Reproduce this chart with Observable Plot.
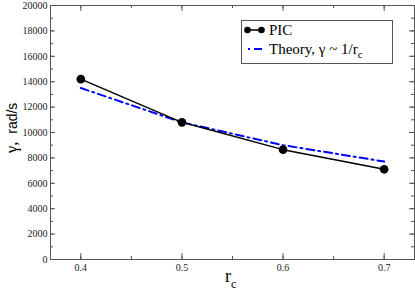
<!DOCTYPE html>
<html>
<head>
<meta charset="utf-8">
<script src="https://cdn.jsdelivr.net/npm/d3@7"></script>
<script src="https://cdn.jsdelivr.net/npm/@observablehq/plot@0.6"></script>
<style>
  html, body { margin: 0; padding: 0; background: #fff; }
</style>
</head>
<body>
<div id="chart"></div>
<script>
const rc = [0.4, 0.5, 0.6, 0.7];
const picGamma = [14200, 10800, 8650, 7100];
const theoryGamma = [13500, 10800, 9000, 7714];
const xTicks = [0.4, 0.5, 0.6, 0.7];
const xMinorTicks = [0.4, 0.45, 0.5, 0.55, 0.6, 0.65, 0.7];
const yTicks = [0, 2000, 4000, 6000, 8000, 10000, 12000, 14000, 16000, 18000, 20000];
const yMinorTicks = d3.range(0, 20001, 1000);

const pic = rc.map((r, i) => ({r, g: picGamma[i]}));
const theory = rc.map((r, i) => ({r, g: theoryGamma[i]}));

const W = 415, H = 290, ML = 50, MR = 1, MT = 5, MB = 31;
const FW = W - ML - MR, FH = H - MT - MB;
const frameColor = "#555";
const serif = "'Liberation Serif', 'DejaVu Serif', serif";
const sans = "'Liberation Sans', Arial, sans-serif";

const plot = Plot.plot({
  width: W, height: H,
  marginLeft: ML, marginRight: MR, marginTop: MT, marginBottom: MB,
  style: {fontFamily: serif, fontSize: "10px", background: "#fff", color: "#000"},
  x: {domain: [0.37, 0.73], axis: null},
  y: {domain: [0, 20000], axis: null},
  marks: [
    // minor ticks
    Plot.ruleX(xMinorTicks, {x: d => d, stroke: frameColor, insetTop: FH - 3}),
    Plot.ruleX(xMinorTicks, {x: d => d, stroke: frameColor, insetBottom: FH - 3}),
    Plot.ruleY(yMinorTicks, {y: d => d, stroke: frameColor, insetRight: FW - 3}),
    Plot.ruleY(yMinorTicks, {y: d => d, stroke: frameColor, insetLeft: FW - 3}),
    // major ticks
    Plot.ruleX(xTicks, {x: d => d, stroke: frameColor, insetTop: FH - 6}),
    Plot.ruleX(xTicks, {x: d => d, stroke: frameColor, insetBottom: FH - 6}),
    Plot.ruleY(yTicks, {y: d => d, stroke: frameColor, insetRight: FW - 5}),
    Plot.ruleY(yTicks, {y: d => d, stroke: frameColor, insetLeft: FW - 5}),
    Plot.frame({stroke: frameColor}),
    Plot.axisX(xTicks, {tickSize: 0, tickPadding: 4.5, tickFormat: d => d.toFixed(1), fill: "#222", label: null}),
    Plot.axisY(yTicks, {tickSize: 0, tickPadding: 3, tickFormat: d => String(d), fill: "#222", label: null}),
    Plot.line(theory, {x: "r", y: "g", stroke: "#0000ff", strokeWidth: 2, strokeDasharray: "8,4,2,4"}),
    Plot.line(pic, {x: "r", y: "g", stroke: "#000", strokeWidth: 1.5}),
    Plot.dot(pic, {x: "r", y: "g", r: 4.3, fill: "#000"})
  ]
});
document.getElementById("chart").appendChild(plot);

const svg = d3.select(plot);

// Legend
const lg = svg.append("g").attr("text-anchor", "start");
lg.append("rect").attr("x", 241.5).attr("y", 20.5).attr("width", 151).attr("height", 43)
  .attr("fill", "#fff").attr("stroke", frameColor).attr("stroke-width", 1);
lg.append("line").attr("x1", 247.5).attr("x2", 261.5).attr("y1", 30).attr("y2", 30)
  .attr("stroke", "#000").attr("stroke-width", 1.5);
lg.append("circle").attr("cx", 247.5).attr("cy", 30).attr("r", 3.3).attr("fill", "#000");
lg.append("circle").attr("cx", 261.5).attr("cy", 30).attr("r", 3.3).attr("fill", "#000");
lg.append("text").attr("x", 269).attr("y", 35).attr("font-family", serif).attr("font-size", 15)
  .attr("fill", "#000").text("PIC");
lg.append("line").attr("x1", 248).attr("x2", 262).attr("y1", 49).attr("y2", 49)
  .attr("stroke", "#0000ff").attr("stroke-width", 2).attr("stroke-dasharray", "2,4,8,10");
const t2 = lg.append("text").attr("x", 269).attr("y", 54).attr("font-family", serif).attr("font-size", 15)
  .attr("fill", "#000");
t2.append("tspan").text("Theory, γ ~ 1/r");
t2.append("tspan").attr("font-size", 11).attr("dy", 4).text("c");

// X label
const xl = svg.append("text").attr("x", 225).attr("y", 282).attr("font-family", serif)
  .attr("text-anchor", "start").attr("font-size", 18).attr("fill", "#000");
xl.append("tspan").text("r");
xl.append("tspan").attr("font-size", 12).attr("dy", 6).text("c");

// Y label
const yl = svg.append("text").attr("transform", "translate(17,128) rotate(-90)")
  .attr("text-anchor", "middle").attr("fill", "#000").attr("xml:space", "preserve");
yl.append("tspan").attr("font-family", serif).attr("font-size", 17).text("γ,");
yl.append("tspan").attr("font-family", sans).attr("font-size", 14).text("\u00a0\u00a0rad/s");
</script>
</body>
</html>
